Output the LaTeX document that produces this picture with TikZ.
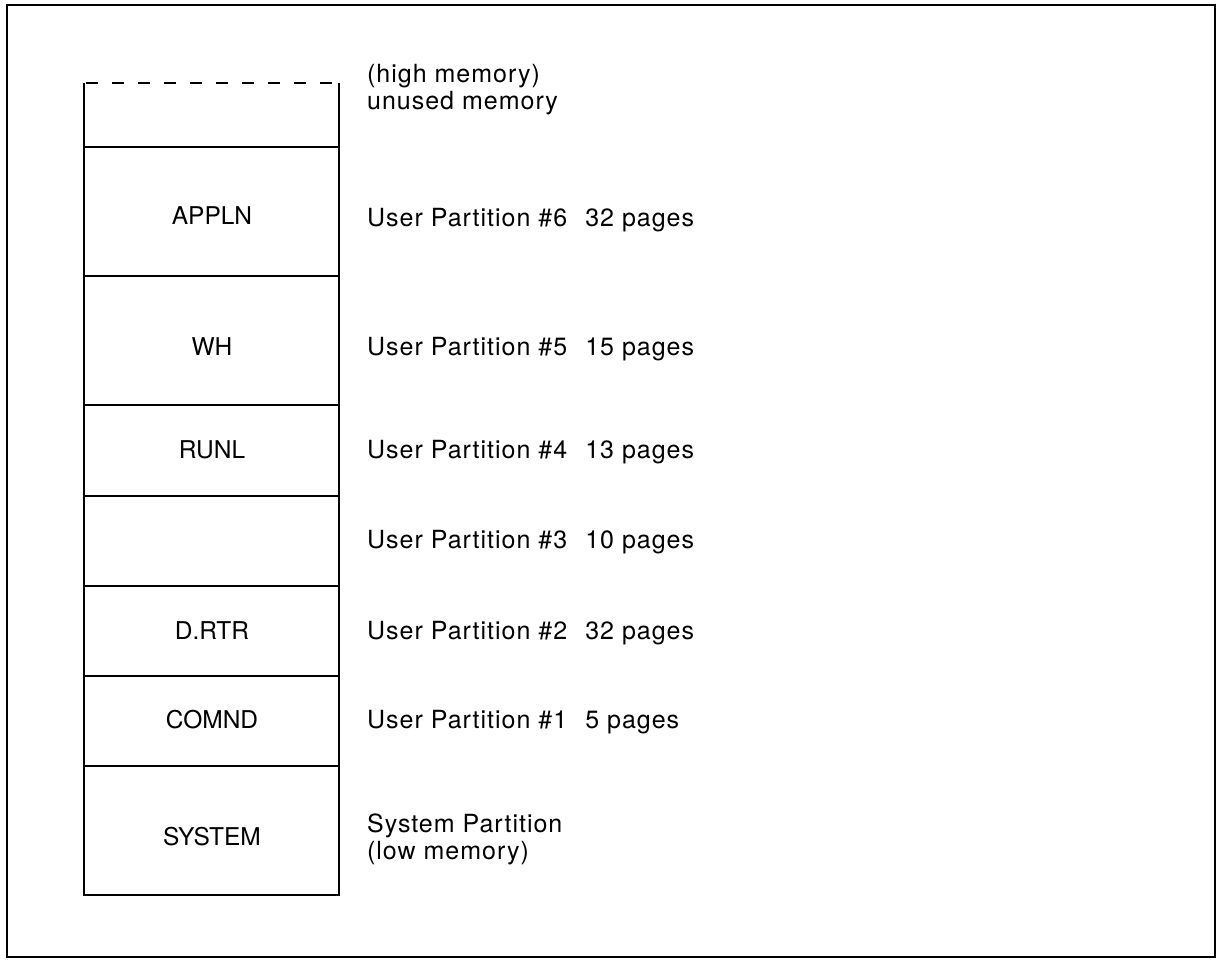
\documentclass[tikz,border=0pt]{standalone}
\usepackage{fontspec}
\setmainfont{TeX Gyre Heros}
\newfontfamily\descfont[LetterSpace=4]{TeX Gyre Heros}
\newcommand{\pgap}{\hspace{18pt}}
\begin{document}
\begin{tikzpicture}[x=1pt,y=-1pt,
  line width=2.2pt,
  lbl/.style={font=\fontsize{24.5}{27}\selectfont, inner sep=0pt},
  part/.style={draw, line width=2.2pt, minimum width=255pt, inner sep=0pt},
  desc/.style={font=\descfont\fontsize{25}{27}\selectfont, inner sep=0pt, anchor=base west, align=left}]
\useasboundingbox (0,0) rectangle (1220,960);
% outer frame
\draw[line width=2.4pt] (7,5) rectangle (1215,957);
% unused memory region (dashed top)
\coordinate (ua) at (84,83);
\coordinate (ub) at (339,83);
\coordinate (uc) at (339,147);
\coordinate (ud) at (84,147);
\draw (ua) -- (ud) -- (uc) -- (ub);
\draw[dash pattern=on 12pt off 14pt, dash phase=-2pt] (ua) -- (ub);
% partitions
\node[part, minimum height=129pt] (appln) at (211.5,211.5) {};
\node[part, minimum height=129pt] (wh) at (211.5,340.5) {};
\node[part, minimum height=91pt] (runl) at (211.5,450.5) {};
\node[part, minimum height=90pt] (p3) at (211.5,541) {};
\node[part, minimum height=90pt] (drtr) at (211.5,631) {};
\node[part, minimum height=90pt] (comnd) at (211.5,721) {};
\node[part, minimum height=129pt] (system) at (211.5,830.5) {};
% box labels
\node[lbl, anchor=base] (tappln) at (212,225) {APPLN};
\node[lbl, anchor=base] (twh) at (212,355) {WH};
\node[lbl, anchor=base] (trunl) at (212,458) {RUNL};
\node[lbl, anchor=base] (tdrtr) at (212,639) {D.RTR};
\node[lbl, anchor=base] (tcomnd) at (212,728) {COMND};
\node[lbl, anchor=base] (tsystem) at (212,845) {SYSTEM};
% descriptions
\node[desc] (dhigh) at (366,83) {(high memory)};
\node[desc] (dunused) at (366,110) {unused memory};
\node[desc] (d6) at (366,226) {User Partition \#6\pgap 32 pages};
\node[desc] (d5) at (366,355) {User Partition \#5\pgap 15 pages};
\node[desc] (d4) at (366,458) {User Partition \#4\pgap 13 pages};
\node[desc] (d3) at (366,548) {User Partition \#3\pgap 10 pages};
\node[desc] (d2) at (366,639) {User Partition \#2\pgap 32 pages};
\node[desc] (d1) at (366,728) {User Partition \#1\pgap 5 pages};
\node[desc] (dsys) at (366,832) {System Partition};
\node[desc] (dlow) at (366,859) {(low memory)};
\end{tikzpicture}
\end{document}
